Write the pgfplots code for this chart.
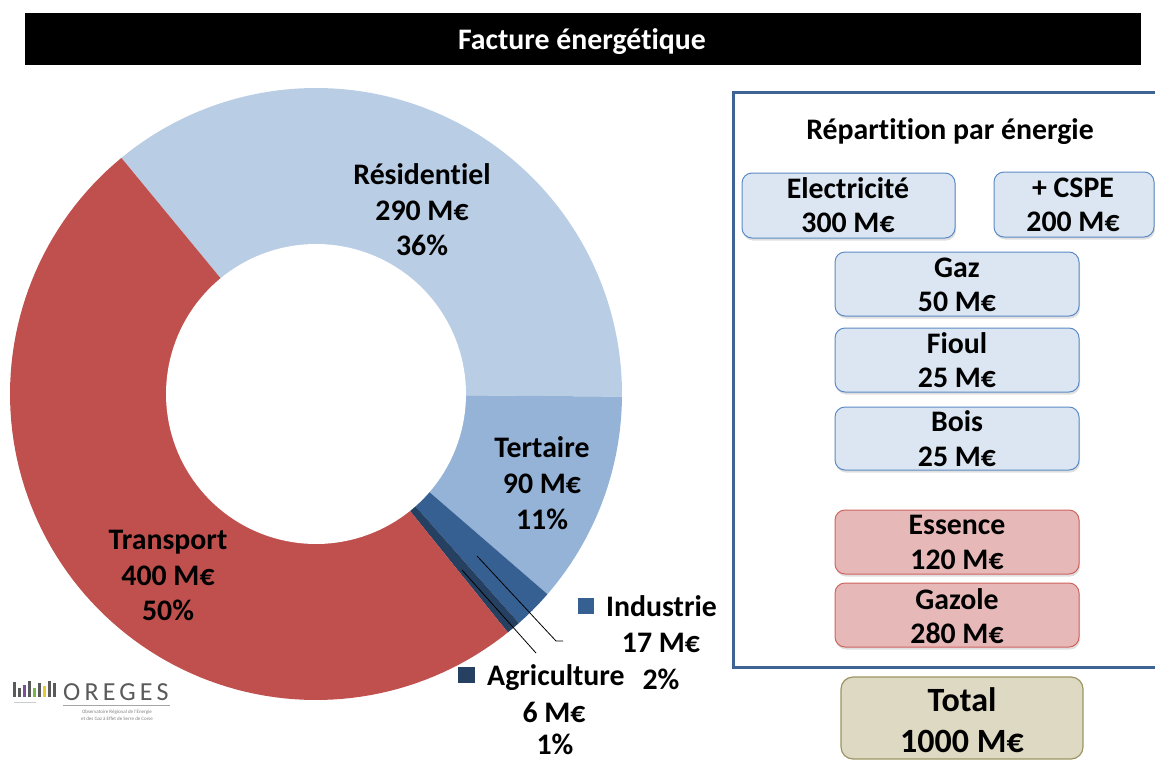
\documentclass[border=0pt]{standalone}
\usepackage{fontspec}
\setmainfont{Carlito}[Ligatures=NoCommon]
\usepackage{pgfplots}
\pgfplotsset{compat=1.18}
\usetikzlibrary{shadows}
\definecolor{res}{HTML}{B9CDE5}
\definecolor{ter}{HTML}{95B3D7}
\definecolor{ind}{HTML}{376092}
\definecolor{agr}{HTML}{254061}
\definecolor{tra}{HTML}{C0504D}
\definecolor{bfill}{HTML}{DCE6F2}
\definecolor{bdraw}{HTML}{5B8AC6}
\definecolor{pfill}{HTML}{E6B9B8}
\definecolor{pdraw}{HTML}{CF6360}
\definecolor{tfill}{HTML}{DDD9C3}
\definecolor{tdraw}{HTML}{9C9462}
\definecolor{panel}{HTML}{3E6494}
\definecolor{logogray}{HTML}{5A5A5A}
\definecolor{lpurple}{HTML}{7D4F9A}
\definecolor{lgreen}{HTML}{7AB648}
\definecolor{lyellow}{HTML}{E8C930}
\definecolor{lblue}{HTML}{4F81BD}
% donut slice: #1 cumulative start value, #2 value, #3 colour (total 803)
\newcommand\slice[3]{%
\addplot[fill=#3, draw=none, domain=0:1.01, samples=102, variable=\t]
({316+((\t>1.0001)?0:306)*cos(129.5-360*(#1+#2*min(\t,1))/803)},
 {394-((\t>1.0001)?0:306)*sin(129.5-360*(#1+#2*min(\t,1))/803)});}
\newcommand\T[4][29.8]{\node[anchor=base, inner sep=0pt, font=\fontsize{#1}{#1}\selectfont\bfseries] at (axis cs:#2,#3) {#4};}
\tikzset{ebox/.style={rounded corners=10pt, line width=1pt, drop shadow={shadow xshift=1pt, shadow yshift=-2.5pt, opacity=0.25}}}
\begin{document}
\begin{tikzpicture}
\useasboundingbox (0,0) rectangle (1155pt,760pt);
\clip (0,0) rectangle (1155pt,760pt);
\begin{axis}[at={(0,0)}, anchor=south west, width=1155pt, height=760pt, scale only axis,
  xmin=0, xmax=1155, ymin=0, ymax=760, y dir=reverse, hide axis, clip=false]
% title bar
\fill[black] (axis cs:25,13) rectangle (axis cs:1141,65);
\node[anchor=base, text=white, font=\fontsize{29.8}{29.8}\selectfont\bfseries, inner sep=0pt] at (axis cs:582,49) {Facture énergétique};
% donut
\slice{0}{290}{res}
\slice{290}{90}{ter}
\slice{380}{17}{ind}
\slice{397}{6}{agr}
\slice{403}{400}{tra}
\addplot[fill=white, draw=none, domain=0:360, samples=150] ({316+150*cos(x)},{394-150*sin(x)});
% donut labels
\T{422}{184}{Résidentiel}
\T{422}{220}{290 M€}
\T{422}{255}{36\%}
\T{542}{457}{Tertaire}
\T{542}{493}{90 M€}
\T{542}{529}{11\%}
\T{168}{549}{Transport}
\T{168}{585}{400 M€}
\T{168}{620}{50\%}
\fill[ind] (axis cs:578,598) rectangle (axis cs:594,614);
\node[anchor=base west, inner sep=0pt, font=\fontsize{29.8}{29.8}\selectfont\bfseries] at (axis cs:606,616) {Industrie};
\T{661}{652}{17 M€}
\T{661}{689}{2\%}
\fill[agr] (axis cs:458,667) rectangle (axis cs:475,683);
\node[anchor=base west, inner sep=0pt, font=\fontsize{29.8}{29.8}\selectfont\bfseries] at (axis cs:487,685) {Agriculture};
\T{554}{722}{6 M€}
\T{555}{754}{1\%}
\draw[black, line width=0.8pt] (axis cs:477,556) -- (axis cs:556,641) -- (axis cs:563,641);
\draw[black, line width=0.8pt] (axis cs:462,570) -- (axis cs:536,653);
% right panel
\draw[panel, line width=3pt] (axis cs:733,92) rectangle (axis cs:1170,667);
\T{950}{139}{Répartition par énergie}
\draw[ebox, fill=bfill, draw=bdraw] (axis cs:742,173) rectangle (axis cs:955,238);
\draw[ebox, fill=bfill, draw=bdraw] (axis cs:994,172) rectangle (axis cs:1154,237);
\draw[ebox, fill=bfill, draw=bdraw] (axis cs:835,252) rectangle (axis cs:1079,316);
\draw[ebox, fill=bfill, draw=bdraw] (axis cs:835,328) rectangle (axis cs:1079,392);
\draw[ebox, fill=bfill, draw=bdraw] (axis cs:835,407) rectangle (axis cs:1079,470);
\draw[ebox, fill=pfill, draw=pdraw] (axis cs:835,510) rectangle (axis cs:1079,574);
\draw[ebox, fill=pfill, draw=pdraw] (axis cs:835,583) rectangle (axis cs:1079,647);
\draw[rounded corners=12pt, fill=tfill, draw=tdraw, line width=1.2pt] (axis cs:841,677) rectangle (axis cs:1083,759);
\T{848}{198}{Electricité}
\T{848}{232}{300 M€}
\T{1073}{197}{+ CSPE}
\T{1073}{231}{200 M€}
\T{957}{277}{Gaz}
\T{957}{311}{50 M€}
\T{957}{353}{Fioul}
\T{957}{387}{25 M€}
\T{957}{431}{Bois}
\T{957}{466}{25 M€}
\T{957}{534}{Essence}
\T{957}{569}{120 M€}
\T{957}{609}{Gazole}
\T{957}{643}{280 M€}
\T[34]{962}{711}{Total}
\T[34]{962}{752}{1000 M€}
% logo
\fill[logogray] (axis cs:13,682) rectangle (axis cs:16,697);
\fill[logogray] (axis cs:18,688) rectangle (axis cs:21,697);
\fill[lpurple] (axis cs:23,685) rectangle (axis cs:26,697);
\fill[logogray] (axis cs:28,681) rectangle (axis cs:31,697);
\fill[lgreen] (axis cs:33,688) rectangle (axis cs:36,697);
\fill[logogray] (axis cs:38,683) rectangle (axis cs:41,697);
\fill[lyellow] (axis cs:43,686) rectangle (axis cs:46,697);
\fill[logogray] (axis cs:48,681) rectangle (axis cs:51,697);
\fill[logogray] (axis cs:53,683) rectangle (axis cs:56,697);
\node[anchor=base west, inner sep=0pt, text=logogray, font=\fontsize{26}{26}\selectfont\addfontfeatures{LetterSpace=16}] at (axis cs:63,700) {OREGES};
\draw[gray!70, line width=0.6pt] (axis cs:63,705) -- (axis cs:170,705);
\draw[gray!40, line width=1pt] (axis cs:14,702) -- (axis cs:36,702);
\node[anchor=base, inner sep=0pt, text=gray, font=\fontsize{5}{5}\selectfont] at (axis cs:117,713) {Observatoire Régional de l'Énergie};
\node[anchor=base, inner sep=0pt, text=gray, font=\fontsize{5}{5}\selectfont] at (axis cs:117,720) {et des Gaz à Effet de Serre de Corse};
\end{axis}
\end{tikzpicture}
\end{document}
